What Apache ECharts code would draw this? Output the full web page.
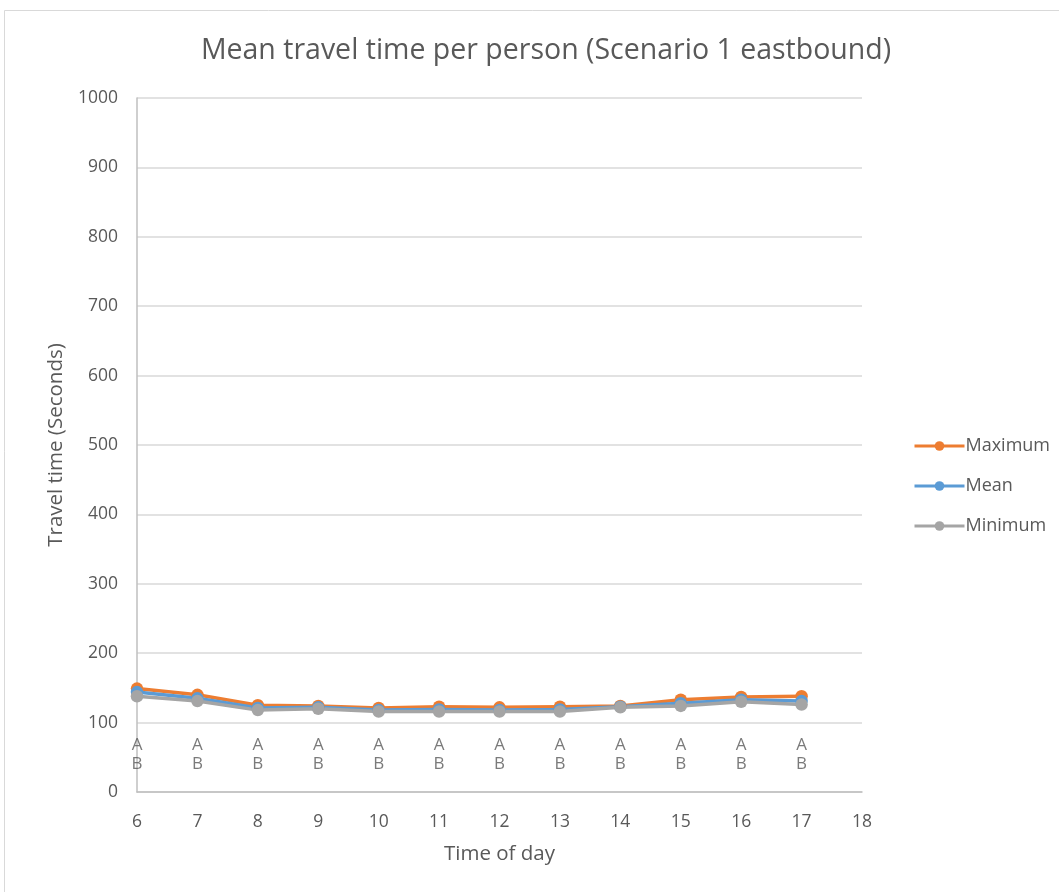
<!DOCTYPE html>
<html>
<head>
<meta charset="utf-8">
<script src="https://cdn.jsdelivr.net/npm/echarts@6/dist/echarts.min.js"></script>
<style>
  html, body { margin: 0; padding: 0; background: #ffffff; }
  #chart { width: 1059px; height: 892px; }
</style>
</head>
<body>
<div id="chart"></div>
<script>
// Hours of the day (x values)
const hours = [6, 7, 8, 9, 10, 11, 12, 13, 14, 15, 16, 17];
// Travel time per person, seconds
const maximumValues = [149, 140, 125, 124, 121, 123, 122, 123, 124, 133, 137, 138];
const meanValues    = [144, 135, 121, 122, 118, 119, 118, 119, 123, 128, 133, 131];
const minimumValues = [138, 131, 118, 120, 116, 116, 116, 116, 122, 124, 130, 126];
// Text annotation under each hour
const annotationLines = ['A', 'B'];
const annotationLevel = 54;

const textColor = '#595959';
const fontFamily = '"Open Sans", "Liberation Sans", sans-serif';

function pairs(values) {
  return hours.map((h, i) => [h, values[i]]);
}

function lineSeries(name, values, color) {
  return {
    name: name,
    type: 'line',
    data: pairs(values),
    symbol: 'circle',
    symbolSize: 12.5,
    lineStyle: { color: color, width: 3.5 },
    itemStyle: { color: color },
    emphasis: { disabled: true },
    z: 3
  };
}

const chart = echarts.init(document.getElementById('chart'), null, { renderer: 'canvas' });

chart.setOption({
  animation: false,
  backgroundColor: '#ffffff',
  textStyle: { fontFamily: fontFamily, color: textColor },
  graphic: [{
    type: 'rect',
    shape: { x: 4.5, y: 10.5, width: 1100, height: 1000 },
    style: { fill: 'none', stroke: '#d9d9d9', lineWidth: 1 },
    silent: true,
    z: -1
  }],
  title: {
    text: 'Mean travel time per person (Scenario 1 eastbound)',
    left: 541,
    top: 31,
    textAlign: 'center',
    textStyle: { fontFamily: fontFamily, fontSize: 28.5, fontWeight: 'normal', color: textColor }
  },
  legend: {
    orient: 'vertical',
    left: 908,
    top: 432,
    itemWidth: 50,
    itemHeight: 12,
    itemGap: 22,
    data: ['Maximum', 'Mean', 'Minimum'],
    lineStyle: { width: 3 },
    textStyle: { fontFamily: fontFamily, fontSize: 18, color: textColor, padding: [0, 0, 0, -4] }
  },
  grid: { left: 137, right: 197, top: 98, bottom: 100, containLabel: false },
  xAxis: {
    type: 'value',
    min: 6,
    max: 18,
    interval: 1,
    name: 'Time of day',
    nameLocation: 'middle',
    nameGap: 52,
    nameTextStyle: { fontFamily: fontFamily, fontSize: 20.5, color: textColor },
    axisLine: { lineStyle: { color: '#bfbfbf', width: 1.5 } },
    axisTick: { show: false },
    axisLabel: { margin: 21, fontSize: 17.5, color: textColor, fontFamily: fontFamily },
    splitLine: { show: false }
  },
  yAxis: {
    type: 'value',
    min: 0,
    max: 1000,
    interval: 100,
    name: 'Travel time (Seconds)',
    nameLocation: 'middle',
    nameGap: 70,
    nameTextStyle: { fontFamily: fontFamily, fontSize: 20.5, color: textColor },
    axisLine: { show: true, lineStyle: { color: '#bfbfbf', width: 1.5 } },
    axisTick: { show: false },
    axisLabel: { margin: 19, fontSize: 17.5, color: textColor, fontFamily: fontFamily, formatter: v => String(v) },
    splitLine: { lineStyle: { color: '#d9d9d9', width: 1.5 } }
  },
  series: [
    lineSeries('Maximum', maximumValues, '#ed7d31'),
    lineSeries('Mean', meanValues, '#5b9bd5'),
    lineSeries('Minimum', minimumValues, '#a5a5a5'),
    {
      name: 'annotation',
      type: 'scatter',
      symbolSize: 0,
      silent: true,
      data: hours.map(h => [h, annotationLevel]),
      label: {
        show: true,
        position: 'inside',
        formatter: annotationLines.join('\n'),
        fontFamily: fontFamily,
        fontSize: 17,
        lineHeight: 19,
        color: textColor
      },
      z: 2
    }
  ]
});
</script>
</body>
</html>
